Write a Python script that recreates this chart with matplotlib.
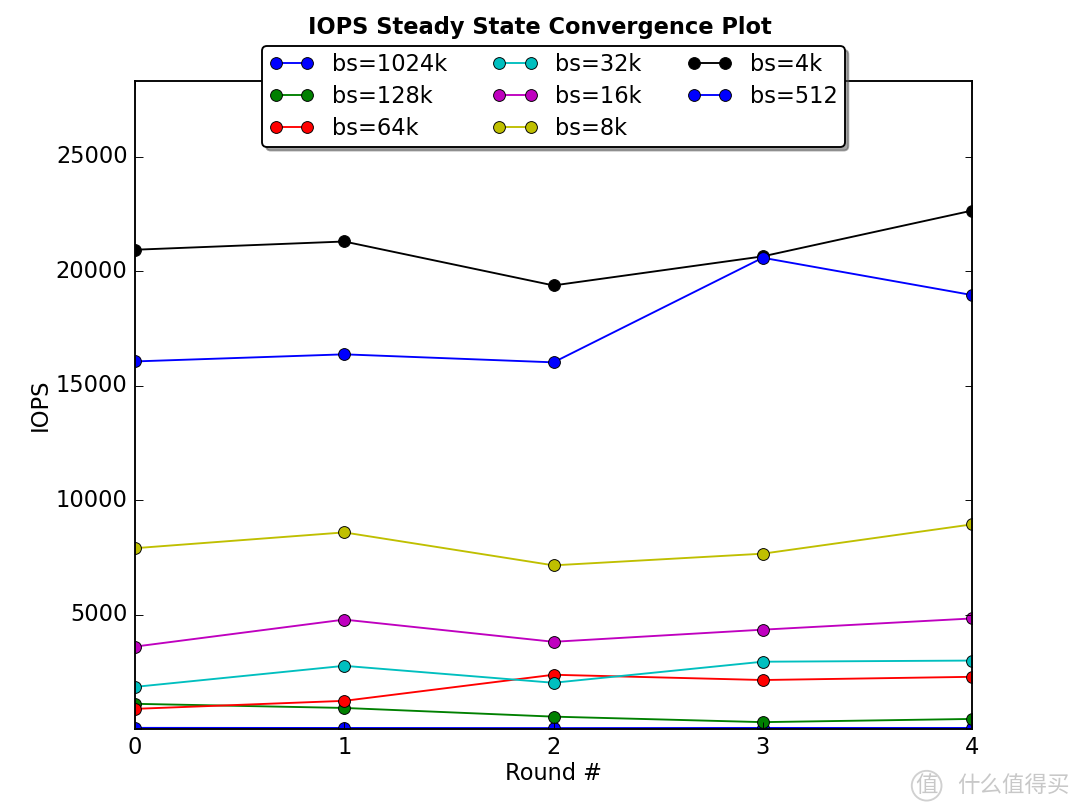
import numpy as np
import matplotlib
matplotlib.use('Agg')
import matplotlib.pyplot as plt

plt.style.use('classic')

rounds = [0, 1, 2, 3, 4]

# IOPS per round for each block size
iops_1024k = [50, 45, 40, 45, 45]
iops_128k = [1100, 920, 540, 300, 440]
iops_64k = [880, 1230, 2370, 2140, 2280]
iops_32k = [1840, 2760, 2020, 2940, 2990]
iops_16k = [3600, 4780, 3810, 4340, 4830]
iops_8k = [7900, 8590, 7150, 7660, 8940]
iops_4k = [20940, 21300, 19380, 20650, 22650]
iops_512 = [16060, 16370, 16020, 20590, 18960]

labels = ['bs=1024k', 'bs=128k', 'bs=64k', 'bs=32k', 'bs=16k', 'bs=8k', 'bs=4k', 'bs=512']
series = [iops_1024k, iops_128k, iops_64k, iops_32k, iops_16k, iops_8k, iops_4k, iops_512]
colors = ['b', 'g', 'r', 'c', 'm', 'y', 'k', 'b']

fig = plt.figure(figsize=(8, 6), dpi=135)
ax = fig.add_axes([0.125, 0.1, 0.775, 0.8])

for vals, lab, col in zip(series, labels, colors):
    ax.plot(rounds, vals, '-o', color=col, label=lab, markersize=6.3, linewidth=1)

ymax = max(max(s) for s in series) * 1.25
ax.set_ylim(0, ymax)
ax.set_xlim(0, 4)
ax.set_xticks(rounds)
ax.set_yticks([5000, 10000, 15000, 20000, 25000])
ax.set_xlabel('Round #', fontsize=12, labelpad=1.5)
ax.set_ylabel('IOPS', fontsize=12, labelpad=2)
ax.tick_params(labelsize=12)

fig.suptitle('IOPS Steady State Convergence Plot', fontsize=12, fontweight='bold', y=0.98)

ax.legend(loc='upper center', bbox_to_anchor=(0.5, 1.071), ncol=3,
          fancybox=True, shadow=True, fontsize=12, numpoints=2,
          borderpad=0.3, labelspacing=0.4, handlelength=2.0, handletextpad=0.8,
          columnspacing=2.0)

# watermark
fig.text(0.858, 0.03, '值', fontsize=12, color='#c8c8c8', ha='center', va='center',
         family=['Noto Sans CJK SC', 'DejaVu Sans'],
         bbox=dict(boxstyle='circle,pad=0.15', fc='none', ec='#d0d0d0'))
fig.text(0.99, 0.03, '什么值得买', fontsize=12, color='#c8c8c8', ha='right', va='center',
         family=['Noto Sans CJK SC', 'DejaVu Sans'])

fig.savefig('out.png', dpi=135, facecolor='white')
